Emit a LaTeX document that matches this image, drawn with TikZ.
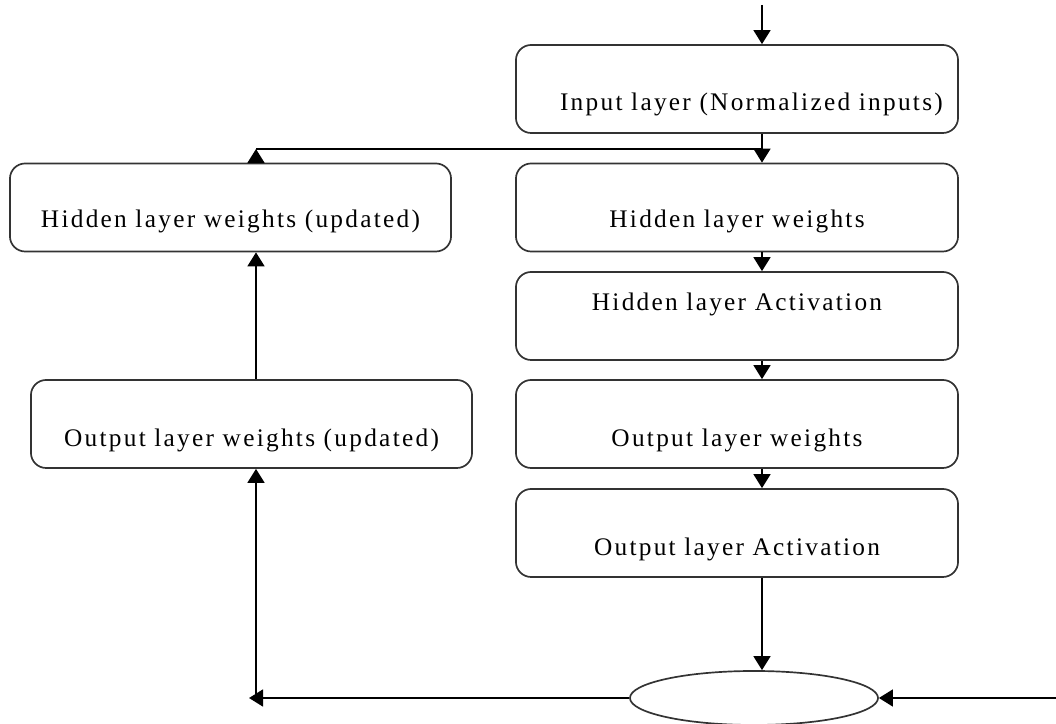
\documentclass[tikz,border=0pt]{standalone}
\usepackage{fontspec}
\setmainfont{Liberation Serif}
\newfontfamily\layerfont[LetterSpace=9]{Liberation Serif}
\usetikzlibrary{arrows.meta,shapes.geometric}

\begin{document}
\begin{tikzpicture}[x=0.0125cm,y=-0.0125cm,
    layer/.style={draw=black!80, line width=0.6pt, rounded corners=0.19cm,
        minimum width=5.525cm, minimum height=1.1cm},
    txt/.style={font=\layerfont\fontsize{9}{11}\selectfont},
    flow/.style={line width=0.8pt, -{Triangle[width=6pt,length=5pt]}}]

    % Fix the page to the size of the reference
    \useasboundingbox (0,0) rectangle (1056,724);

    % Right column: the forward pass
    \node[layer, label={[txt, xshift=0.18cm, yshift=-0.19cm]center:Input layer (Normalized inputs)}] (in) at (737,89) {};
    \node[layer, label={[txt, yshift=-0.18cm]center:Hidden layer weights}] (hw) at (737,207.5) {};
    \node[layer, label={[txt, yshift=0.14cm]center:Hidden layer Activation}] (ha) at (737,316) {};
    \node[layer, label={[txt, yshift=-0.21cm]center:Output layer weights}] (ow) at (737,424) {};
    \node[layer, label={[txt, yshift=-0.21cm]center:Output layer Activation}] (oa) at (737,533) {};

    % Left column: the updated weights
    \node[layer, minimum width=5.5125cm, label={[txt, yshift=-0.17cm]center:Hidden layer weights (updated)}] (hwu) at (230.5,207.5) {};
    \node[layer, minimum width=5.5125cm, label={[txt, yshift=-0.21cm]center:Output layer weights (updated)}] (owu) at (251.5,424) {};

    % Error node at the bottom
    \node[draw=black!80, line width=0.6pt, ellipse, minimum width=3.1cm, minimum height=0.675cm] (err) at (754,698) {};

    % Helper points for the connectors
    \coordinate (top) at (762,5);
    \coordinate (join) at (762,149);
    \coordinate (leftx) at (256,0);
    \coordinate (corner) at (249,698);
    \coordinate (feed) at (1056,698);

    % Forward arrows down the right column
    \draw[flow] (top) -- (top |- in.north);
    \draw[flow] (in.south -| top) -- (hw.north -| top);
    \draw[flow] (hw.south -| top) -- (ha.north -| top);
    \draw[flow] (ha.south -| top) -- (ow.north -| top);
    \draw[flow] (ow.south -| top) -- (oa.north -| top);
    \draw[flow] (oa.south -| top) -- (err.north -| top);

    % Target coming in from the right
    \draw[flow] (feed) -- (err.east);

    % Back along the bottom and up the left column
    \draw[flow] (err.west) -- (corner);
    \draw[flow] (leftx |- corner) -- (leftx |- owu.south);
    \draw[flow] (owu.north -| leftx) -- (hwu.south -| leftx);
    \draw[flow] (hwu.north -| leftx) -- (leftx |- join);
    \draw[line width=0.8pt] (leftx |- join) -- (join);

\end{tikzpicture}
\end{document}
